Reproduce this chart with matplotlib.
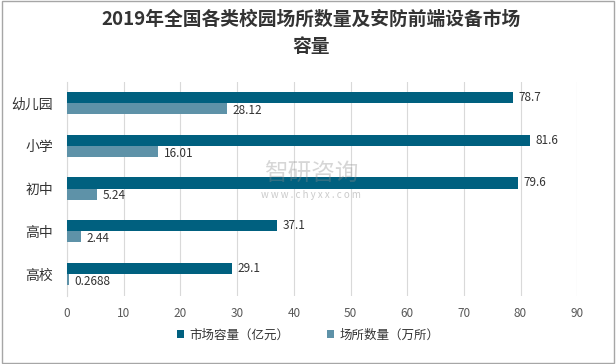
import numpy as np
import matplotlib.pyplot as plt

plt.rcParams['font.family'] = ['Noto Sans CJK SC', 'DejaVu Sans']

categories = ["幼儿园", "小学", "初中", "高中", "高校"]
market = [78.7, 81.6, 79.6, 37.1, 29.1]
venues = [28.12, 16.01, 5.24, 2.44, 0.2688]
venue_labels = ["28.12", "16.01", "5.24", "2.44", "0.2688"]

dark = "#00607F"
light = "#5E92A8"

fig = plt.figure(figsize=(6.16, 3.64), dpi=100)
ax = fig.add_axes([0.109, 0.188, 0.828, 0.588])

y = np.arange(len(categories))
h = 0.26
ax.barh(y - h / 2, market, height=h, color=dark, label="市场容量（亿元）", zorder=3)
ax.barh(y + h / 2, venues, height=h, color=light, label="场所数量（万所）", zorder=3)

for yi, v in zip(y, market):
    ax.text(v + 1.0, yi - h / 2, f"{v}", va="center", ha="left", fontsize=8.5, color="#333333")
for yi, v, s in zip(y, venues, venue_labels):
    ax.text(v + 1.0, yi + h / 2 + 0.04, s, va="center", ha="left", fontsize=8.5, color="#333333")

ax.set_yticks(y)
ax.set_yticklabels(categories, fontsize=10, color="#333333")
ax.set_ylim(len(categories) - 0.5, -0.5)
ax.set_xlim(0, 90)
ax.set_xticks(range(0, 91, 10))
ax.tick_params(axis="x", labelsize=8.5, colors="#595959", length=0, pad=8)
ax.tick_params(axis="y", length=0, pad=10)
ax.grid(axis="x", color="#D9D9D9", linewidth=0.8, zorder=0)
for s in ["top", "right", "bottom"]:
    ax.spines[s].set_visible(False)
ax.spines["left"].set_color("#D9D9D9")

fig.text(0.505, 0.948, "2019年全国各类校园场所数量及安防前端设备市场", ha="center", va="center",
         fontsize=13.5, fontweight="bold", color="#333333")
fig.text(0.505, 0.873, "容量", ha="center", va="center", fontsize=13.5, fontweight="bold", color="#333333")

fig.legend(loc="center", bbox_to_anchor=(0.5, 0.08), ncol=2, frameon=False, fontsize=9,
           handlelength=0.6, handleheight=0.6, columnspacing=3, handletextpad=0.4,
           labelcolor="#333333")

# watermark
fig.text(0.505, 0.52, "智研咨询", ha="center", va="center", fontsize=17, color="#8C8C8C", alpha=0.35)
fig.text(0.505, 0.465, "w w w . c h y x x . c o m", ha="center", va="center", fontsize=7,
         color="#8C8C8C", alpha=0.45)

# frame
fig.patches.append(plt.Rectangle((0.003, 0.003), 0.994, 0.994, transform=fig.transFigure,
                                 fill=False, edgecolor="#A6A6A6", linewidth=1))

fig.savefig("out.png", dpi=100)
